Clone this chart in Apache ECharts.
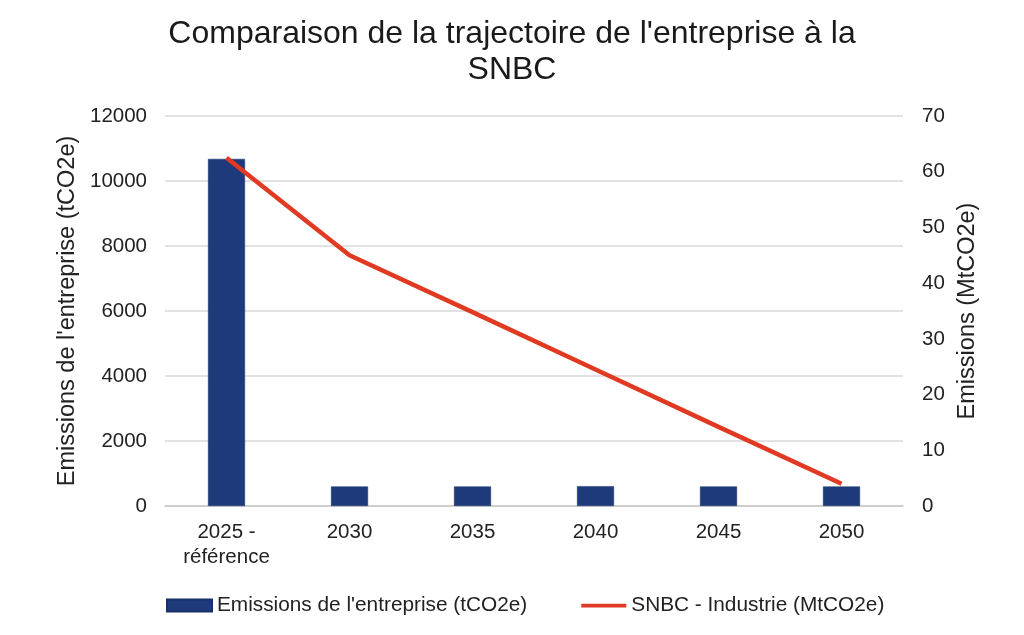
<!DOCTYPE html>
<html><head><meta charset="utf-8">
<script src="https://cdn.jsdelivr.net/npm/echarts@6/dist/echarts.min.js"></script>
<style>html,body{margin:0;padding:0;background:#fff}#c{width:1024px;height:635px}</style>
</head><body><div id="c"></div>
<script>
const categories = ['2025 -\nréférence', '2030', '2035', '2040', '2045', '2050'];
const entrepriseValues = [10680, 600, 600, 610, 600, 600];
const snbcValues = [62.5, 45, 34.8, 24.5, 14.2, 4];
const leftTicks = [0, 2000, 4000, 6000, 8000, 10000, 12000];
const rightTicks = [0, 10, 20, 30, 40, 50, 60, 70];

const font = 'Liberation Sans, Arial, sans-serif';
const chart = echarts.init(document.getElementById('c'));
chart.setOption({
  animation: false,
  textStyle: { fontFamily: font },
  title: {
    text: "Comparaison de la trajectoire de l'entreprise à la\nSNBC",
    left: 'center', top: 11,
    textStyle: { fontFamily: font, fontSize: 32, fontWeight: 'normal', color: '#1a1a1a', lineHeight: 36 }
  },
  legend: {
    bottom: 14, left: 161, itemGap: 54, itemWidth: 45, itemHeight: 12,
    textStyle: { fontFamily: font, fontSize: 20.8, color: '#222' },
    data: [
      { name: "Emissions de l'entreprise (tCO2e)", icon: 'rect' },
      { name: 'SNBC - Industrie (MtCO2e)', icon: 'path://M0,0 L48,0 L48,4 L0,4 Z' }
    ]
  },
  grid: { left: 165, right: 121, top: 116, bottom: 129 },
  xAxis: {
    type: 'category', data: categories,
    axisLine: { lineStyle: { color: '#c8c8c8', width: 1.5 } },
    axisTick: { show: false },
    axisLabel: { fontFamily: font, fontSize: 20.5, color: '#222', margin: 14, lineHeight: 25 }
  },
  yAxis: [
    {
      type: 'value', min: leftTicks[0], max: leftTicks[leftTicks.length - 1], interval: 2000,
      name: "Emissions de l'entreprise (tCO2e)", nameLocation: 'middle', nameRotate: 90, nameGap: 78,
      nameTextStyle: { fontFamily: font, fontSize: 23.5, color: '#222' },
      axisLabel: { fontFamily: font, fontSize: 20.5, color: '#222', margin: 18, formatter: v => String(v) },
      axisLine: { show: false }, axisTick: { show: false },
      splitLine: { lineStyle: { color: '#d9d9d9', width: 1.5 } }
    },
    {
      type: 'value', min: rightTicks[0], max: rightTicks[rightTicks.length - 1], interval: 10,
      name: 'Emissions (MtCO2e)', nameLocation: 'middle', nameRotate: 90, nameGap: 53,
      nameTextStyle: { fontFamily: font, fontSize: 23.5, color: '#222' },
      axisLabel: { fontFamily: font, fontSize: 20.5, color: '#222', margin: 19 },
      axisLine: { show: false }, axisTick: { show: false },
      splitLine: { show: false }
    }
  ],
  series: [
    {
      name: "Emissions de l'entreprise (tCO2e)", type: 'bar', data: entrepriseValues,
      barWidth: 37, yAxisIndex: 0,
      itemStyle: { color: '#1f3a7a', borderColor: '#16306a', borderWidth: 0.5 }
    },
    {
      name: 'SNBC - Industrie (MtCO2e)', type: 'line', data: snbcValues, yAxisIndex: 1,
      symbol: 'none', lineStyle: { color: '#e03a22', width: 4.5 }, itemStyle: { color: '#e03a22' }
    }
  ]
});
</script></body></html>
